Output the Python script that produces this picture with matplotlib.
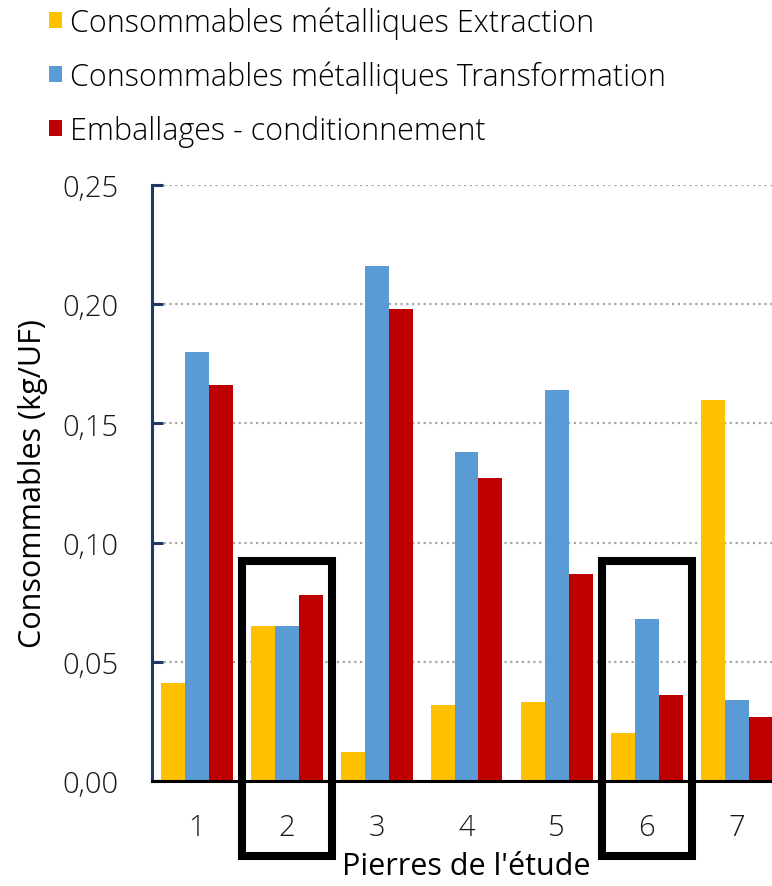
import numpy as np
import matplotlib.pyplot as plt
from matplotlib.patches import Patch, Rectangle
from matplotlib.ticker import FuncFormatter

plt.rcParams['font.family'] = ['Open Sans', 'DejaVu Sans']
plt.rcParams['font.weight'] = 'light'

categories = ["1", "2", "3", "4", "5", "6", "7"]
series_names = [
    "Consommables métalliques Extraction",
    "Consommables métalliques Transformation",
    "Emballages - conditionnement",
]
extraction = [0.041, 0.065, 0.012, 0.032, 0.033, 0.020, 0.160]
transformation = [0.180, 0.065, 0.216, 0.138, 0.164, 0.068, 0.034]
emballages = [0.166, 0.078, 0.198, 0.127, 0.087, 0.036, 0.027]
colors = ["#FFC000", "#5B9BD5", "#C00000"]
highlighted = ["2", "6"]

W, H = 772, 887
fig = plt.figure(figsize=(W / 100, H / 100), dpi=100)
ax = fig.add_axes([151.5 / W, 105 / H, 630 / W, 596 / H])

x = np.arange(1, len(categories) + 1)
bw = 0.8 / 3
for i, (vals, col) in enumerate(zip([extraction, transformation, emballages], colors)):
    ax.bar(x + (i - 1) * bw, vals, width=bw, color=col, zorder=3, linewidth=0)

ax.set_xlim(0.5, len(categories) + 0.5)
ax.set_ylim(0, 0.25)
ax.set_yticks(np.arange(0, 0.2501, 0.05))
ax.yaxis.set_major_formatter(FuncFormatter(lambda v, p: f"{v:.2f}".replace(".", ",")))
ax.set_xticks(x)
ax.set_xticklabels(categories)

ax.grid(axis="y", color="#A6A6A6", linestyle=(0, (1, 1.6)), linewidth=1.6, zorder=0)
for s in ["top", "right"]:
    ax.spines[s].set_visible(False)
ax.spines["left"].set_color("#1F3864")
ax.spines["left"].set_linewidth(2.2)
ax.spines["bottom"].set_color("black")
ax.spines["bottom"].set_linewidth(2.2)
ax.spines["bottom"].set_zorder(4)

ax.tick_params(axis="y", direction="in", length=8, width=2.2, color="#1F3864",
               labelsize=21, pad=24, labelcolor="#1a1a1a")
ax.tick_params(axis="x", length=0, labelsize=21, pad=23, labelcolor="#1a1a1a")
ax.set_ylabel("Consommables (kg/UF)", fontsize=22, labelpad=10)
ax.set_xlabel("Pierres de l'étude", fontsize=22, labelpad=6)

# boxes around highlighted stones
for c in highlighted:
    xc = categories.index(c) + 1
    ax.add_patch(Rectangle((xc - 0.5, -0.0313), 1.0, 0.0924 + 0.0313, fill=False,
                           edgecolor="black", linewidth=5.8, clip_on=False, zorder=5))

handles = [Patch(facecolor=c, edgecolor="none") for c in colors]
fig.legend(handles, series_names, loc="upper left", bbox_to_anchor=(37 / W, 1 + 5 / H),
           frameon=False, fontsize=22, handlelength=0.42, handleheight=0.42,
           handletextpad=0.25, labelspacing=0.72, borderaxespad=0)

fig.savefig("out.png", dpi=100)
